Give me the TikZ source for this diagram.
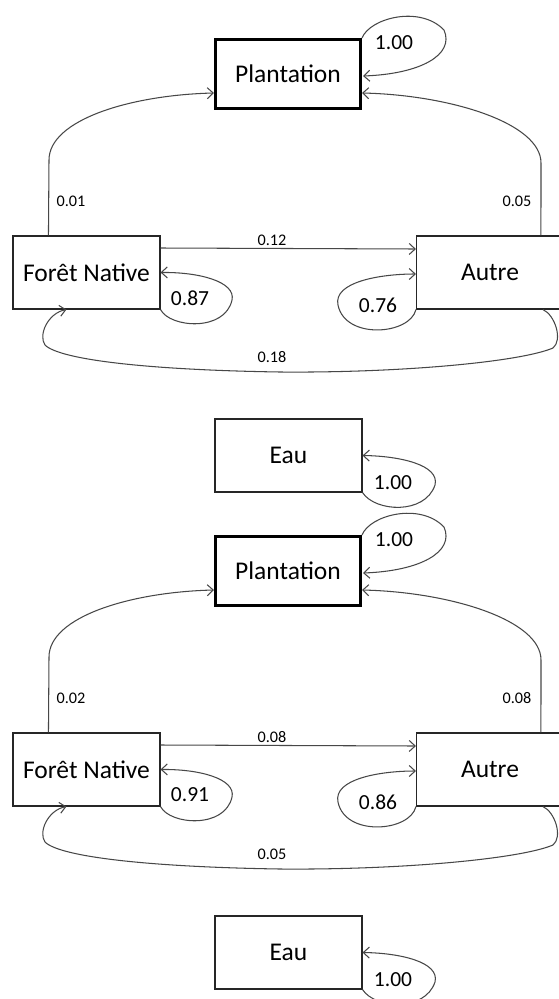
\documentclass[tikz,border=0pt]{standalone}
\usepackage{fontspec}
\setmainfont{Carlito}
\usetikzlibrary{arrows.meta,calc}
\tikzset{
  box/.style={draw=black!85, line width=1.1pt, minimum width=147pt, minimum height=73pt, inner sep=0pt, font=\fontsize{25.5}{29}\selectfont},
  thickbox/.style={box, draw=black, line width=2.8pt, minimum width=145.2pt, minimum height=69.2pt},
  conn/.style={draw=black!72, line width=1.05pt, -{Straight Barb[length=6pt,width=11pt,line width=1.05pt]}},
  big/.style={font=\fontsize{21.5}{24}\selectfont, text=black, inner sep=0pt},
  small/.style={font=\fontsize{16.2}{18}\selectfont, text=black, inner sep=0pt},
}
\newcommand\mypanel[8]{%
  \node[thickbox] (pl#1) at (288,{74+#2}) {Plantation};
  \node[box] (fn#1) at (86.5,{272.5+#2}) {Forêt Native};
  \node[box] (au#1) at (490,{272.5+#2}) {Autre};
  \node[box] (eau#1) at (288.5,{455.5+#2}) {Eau};
  % Foret -> Plantation
  \draw[conn] ($(fn#1.north west)+(36,0)$) -- (49,{160+#2})
     .. controls (49,{120+#2}) and (130,{95+#2}) .. ($(pl#1.west)+(0,19)$);
  % Autre -> Plantation
  \draw[conn] ($(au#1.north west)+(125,0)$) -- (541,{163+#2})
     .. controls (541,{123+#2}) and (450,{95+#2}) .. ($(pl#1.east)+(0,19)$);
  % Foret -> Autre
  \draw[conn] ($(fn#1.east)+(0,-24.5)$) -- ($(au#1.west)+(0,-23.5)$);
  % Foret loop
  \draw[conn] (fn#1.south east) .. controls (170,{328+#2}) and (225,{332+#2}) .. (232,{300+#2})
     .. controls (236,{282+#2}) and (200,{272+#2}) .. (fn#1.east);
  % Autre loop
  \draw[conn] (au#1.south west) .. controls (410,{335+#2}) and (345,{340+#2}) .. (338,{305+#2})
     .. controls (333,{282+#2}) and (380,{274+#2}) .. ($(au#1.west)+(0,1.5)$);
  % Autre -> Foret (bottom)
  \draw[conn] ($(au#1.south)+(53,0)$) .. controls (555,{315+#2}) and (563,{340+#2}) .. (553,{348+#2})
     .. controls (520,{362+#2}) and (400,{373+#2}) .. (280,{372+#2})
     .. controls (150,{370+#2}) and (60,{360+#2}) .. (45,{345+#2})
     .. controls (38,{335+#2}) and (48,{313+#2}) .. ($(fn#1.south west)+(54,0)$);
  % Plantation loop
  \draw[conn] (pl#1.north east) .. controls (370,{18+#2}) and (420,{5+#2}) .. (444,{30+#2})
     .. controls (455,{55+#2}) and (420,{74+#2}) .. ($(pl#1.east)+(1,2)$);
  % Eau loop
  \draw[conn] (eau#1.south east) .. controls (375,{512+#2}) and (425,{515+#2}) .. (435,{485+#2})
     .. controls (440,{465+#2}) and (400,{456+#2}) .. (eau#1.east);
  % labels
  \node[small] (lfp#1) at (71,{201+#2}) {#3};
  \node[small] (lap#1) at (517,{201+#2}) {#4};
  \node[small] (lfa#1) at (272,{240+#2}) {#5};
  \node[big] (lfl#1) at (190,{298+#2}) {#6};
  \node[big] (lal#1) at (378,{305+#2}) {#7};
  \node[small] (laf#1) at (272,{357+#2}) {#8};
  \node[big] (lpl#1) at (394,{43+#2}) {1.00};
  \node[big] (leau#1) at (393,{483+#2}) {1.00};
}
\begin{document}
\begin{tikzpicture}[x=1pt,y=-1pt]
  \useasboundingbox[fill=white] (0,0) rectangle (558,999);
  \mypanel{a}{0}{0.01}{0.05}{0.12}{0.87}{0.76}{0.18}
  \mypanel{b}{497}{0.02}{0.08}{0.08}{0.91}{0.86}{0.05}
\end{tikzpicture}
\end{document}
